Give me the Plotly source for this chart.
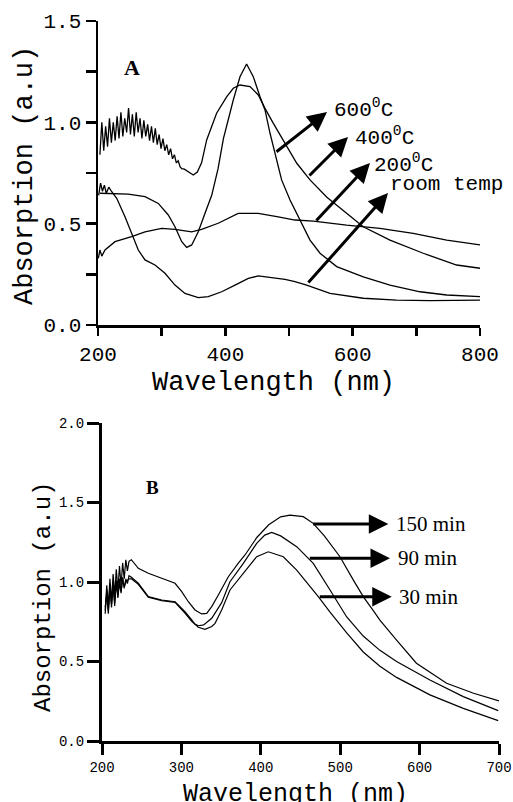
import plotly.graph_objects as go

# ---------------- Panel A data ----------------
wl_600 = [203.1, 226.7, 247.6, 273.8, 294.7, 310.4, 320.9, 331.5, 339.3, 347.2, 357.5, 368.1,
          378.6, 388.5, 397.0, 412.5, 423.0, 433.4, 443.9, 454.5, 462.3, 470.2, 478.0, 488.4,
          501.6, 517.3, 533.0, 548.7, 574.9, 616.7, 658.6, 705.8, 747.7, 800]
abs_600 = [0.650, 0.646, 0.646, 0.633, 0.600, 0.543, 0.485, 0.411, 0.383, 0.395, 0.460, 0.551,
           0.640, 0.770, 0.920, 1.110, 1.225, 1.288, 1.225, 1.126, 1.061, 0.946, 0.848, 0.716,
           0.617, 0.518, 0.419, 0.354, 0.288, 0.238, 0.197, 0.164, 0.148, 0.140]

wl_400 = [203, 206, 209, 212, 215, 218, 221, 224, 227, 230, 233, 236, 239, 242, 245, 248, 251,
          254, 257, 260, 263, 266, 269, 272, 275, 278, 281, 284, 287, 290, 293, 296, 299, 302,
          305, 308, 311, 314, 317, 320, 323, 326, 329, 332, 335,
          341.8, 349.7, 356.0, 362.7, 370.7, 386.3, 402.0, 412.5, 423.0, 438.8, 451.8, 462.3,
          475.4, 491.1, 512.2, 533.0, 559.5, 616.6, 658.6, 710.8, 763.3, 800]
abs_400 = [0.84, 1.00, 0.86, 0.98, 0.88, 1.02, 0.90, 1.00, 0.91, 1.03, 0.92, 1.05, 0.93, 1.02,
           0.95, 1.07, 0.94, 1.04, 0.93, 1.05, 0.95, 1.02, 0.92, 1.01, 0.93, 0.99, 0.91, 0.98,
           0.90, 0.97, 0.89, 0.94, 0.87, 0.92, 0.86, 0.89, 0.84, 0.87, 0.82, 0.84, 0.80, 0.81,
           0.78, 0.77, 0.77,
           0.756, 0.740, 0.755, 0.800, 0.913, 1.045, 1.126, 1.168, 1.184, 1.176, 1.135, 1.069,
           0.995, 0.913, 0.798, 0.716, 0.630, 0.485, 0.419, 0.354, 0.296, 0.280]

wl_200 = [200.5, 203, 206, 211.0, 226.7, 252.8, 273.8, 299.9, 320.9, 347.2, 362.7, 388.8, 420.2,
          451.8, 483.2, 509.4, 538.2, 590.5, 642.9, 695.1, 747.7, 800]
abs_200 = [0.329, 0.37, 0.34, 0.370, 0.411, 0.436, 0.460, 0.477, 0.472, 0.460, 0.472, 0.502, 0.551,
           0.551, 0.534, 0.518, 0.513, 0.493, 0.477, 0.452, 0.419, 0.395]

wl_rt = [201, 204, 207, 210, 213, 217, 221, 229.4, 242.4, 252.8, 263.3, 273.8, 289.5, 305.2,
         320.9, 336.6, 357.5, 373.2, 394.3, 415.2, 436.1, 451.8, 472.8, 493.7, 509.4, 527.7,
         564.4, 616.7, 669.0, 721.5, 800]
abs_rt = [0.64, 0.70, 0.66, 0.69, 0.65, 0.68, 0.66, 0.625, 0.534, 0.452, 0.370, 0.321, 0.296,
          0.255, 0.197, 0.156, 0.135, 0.140, 0.164, 0.197, 0.230, 0.242, 0.235, 0.225, 0.214,
          0.197, 0.156, 0.132, 0.123, 0.120, 0.123]

a_xticks = [200, 300, 400, 500, 600, 700, 800]
a_xtext = ["200", "", "400", "", "600", "", "800"]
a_yticks = [0, 0.25, 0.5, 0.75, 1.0, 1.25, 1.5]
a_ytext = ["0.0", "", "0.5", "", "1.0", "", "1.5"]

# ---------------- Panel B data ----------------
wl_150 = [204, 206, 208, 210, 212, 214, 216, 218, 220, 222, 224, 226, 228, 230, 232, 234, 237,
          245.7, 258.3, 275.2, 283.5, 292, 300.4, 308.7, 317.1, 325.6, 331.9, 338.2, 346.5,
          359.1, 371.7, 380.1, 395, 410, 425, 436.7, 453.5, 466, 480, 499.7, 516.6, 529, 541.7,
          550, 571, 596, 634, 668, 700]
abs_150 = [0.82, 0.98, 0.85, 1.02, 0.88, 1.05, 0.92, 1.08, 0.95, 1.10, 0.98, 1.12, 1.02, 1.14,
           1.07, 1.13, 1.14,
           1.086, 1.055, 1.023, 1.012, 0.992, 0.939, 0.876, 0.824, 0.799, 0.803, 0.845, 0.918,
           1.033, 1.118, 1.170, 1.28, 1.36, 1.41, 1.421, 1.411, 1.369, 1.29, 1.159, 1.012, 0.908,
           0.82, 0.76, 0.635, 0.489, 0.363, 0.300, 0.252]

wl_90 = [204, 206, 208, 210, 212, 214, 216, 218, 220, 222, 224, 226, 228, 230, 232, 234, 237,
         245.7, 258.3, 275.2, 292, 304.5, 313, 317.1, 321.3, 328, 338.2, 350.7, 361, 378,
         394.8, 405, 413.7, 425, 445.2, 460, 466.1, 487.2, 508.2, 529, 550, 571, 613, 655, 699]
abs_90 = [0.80, 0.95, 0.82, 0.98, 0.84, 1.00, 0.87, 1.01, 0.90, 1.02, 0.93, 1.03, 0.96, 1.02,
          0.99, 1.04, 1.03,
          0.992, 0.908, 0.887, 0.876, 0.813, 0.761, 0.735, 0.725, 0.730, 0.772, 0.870, 1.00,
          1.117, 1.243, 1.295, 1.312, 1.29, 1.222, 1.147, 1.117, 0.95, 0.78, 0.66, 0.57, 0.50,
          0.384, 0.279, 0.191]

wl_30 = [204, 206, 208, 210, 212, 214, 216, 218, 220, 222, 224, 226, 228, 230, 232, 234, 237,
         245.7, 258.3, 275.2, 292, 304.5, 313, 321.3, 329.7, 338.2, 342.4, 350.7, 361.2, 378,
         394.8, 409.4, 428.3, 445.2, 466.1, 472.4, 487.2, 508.2, 529, 550, 571, 613, 655, 699]
abs_30 = [0.84, 0.92, 0.80, 0.96, 0.86, 0.97, 0.85, 1.00, 0.91, 0.99, 0.94, 1.02, 0.97, 1.00,
          1.01, 1.02, 1.02,
          0.985, 0.905, 0.883, 0.872, 0.805, 0.752, 0.715, 0.702, 0.720, 0.740, 0.824, 0.950,
          1.055, 1.159, 1.190, 1.159, 1.075, 0.950, 0.908, 0.81, 0.68, 0.56, 0.47, 0.40, 0.29,
          0.205, 0.128]

b_xticks = [200, 300, 400, 500, 600, 700]
b_yticks = [0.0, 0.5, 1.0, 1.5, 2.0]
b_ytext = ["0.0", "0.5", "1.0", "1.5", "2.0"]

W, H = 513, 802
def px(x):
    return x / W
def py(y):
    return 1 - y / H

fig = go.Figure()
for xs, ys in [(wl_600, abs_600), (wl_400, abs_400), (wl_200, abs_200), (wl_rt, abs_rt)]:
    fig.add_trace(go.Scatter(x=xs, y=ys, mode="lines", line=dict(color="black", width=1.3),
                             xaxis="x", yaxis="y", hoverinfo="skip"))
for xs, ys in [(wl_150, abs_150), (wl_90, abs_90), (wl_30, abs_30)]:
    fig.add_trace(go.Scatter(x=xs, y=ys, mode="lines", line=dict(color="black", width=1.2),
                             xaxis="x2", yaxis="y2", hoverinfo="skip"))

mono = "Liberation Mono"
serif = "Liberation Serif"

axis_common = dict(showgrid=False, zeroline=False, showline=True, linecolor="black",
                   ticks="outside", tickcolor="black", automargin=False)

fig.update_layout(
    template="none",
    width=W, height=H, margin=dict(l=0, r=0, t=0, b=0, pad=0, autoexpand=False),
    paper_bgcolor="white", plot_bgcolor="white", showlegend=False,
    xaxis=dict(domain=[px(98), px(480)], range=[200, 800], tickvals=a_xticks, ticktext=a_xtext,
               linewidth=2.5, tickwidth=2.5, ticklen=8, anchor="y",
               tickfont=dict(family=mono, size=21, color="black"), **axis_common),
    yaxis=dict(domain=[py(325), py(21)], range=[0, 1.5], tickvals=a_yticks, ticktext=a_ytext,
               linewidth=2.5, tickwidth=2.5, ticklen=10, anchor="x",
               tickfont=dict(family=mono, size=21, color="black"), **axis_common),
    xaxis2=dict(domain=[px(102), px(499)], range=[200, 700], tickvals=b_xticks,
                linewidth=3, tickwidth=3, ticklen=11, anchor="y2",
                tickfont=dict(family=mono, size=14, color="black"), **axis_common),
    yaxis2=dict(domain=[py(741), py(423)], range=[0, 2.0], tickvals=b_yticks, ticktext=b_ytext,
                linewidth=3, tickwidth=3, ticklen=12, anchor="x2",
                tickfont=dict(family=mono, size=14, color="black"), **axis_common),
)

ann = []
# axis titles
ann.append(dict(text="Wavelength (nm)", x=px(273), y=py(383), xref="paper", yref="paper",
                xanchor="center", yanchor="middle",
                showarrow=False, font=dict(family=mono, size=27, color="black")))
ann.append(dict(text="Absorption (a.u)", x=px(25), y=py(176), xref="paper", yref="paper",
                xanchor="center", yanchor="middle",
                showarrow=False, textangle=-90, font=dict(family=mono, size=27, color="black")))
ann.append(dict(text="Wavelength (nm)", x=px(295), y=py(778), xref="paper", yref="paper",
                xanchor="center", yanchor="top",
                showarrow=False, font=dict(family=mono, size=25, color="black")))
ann.append(dict(text="Absorption (a.u)", x=px(43), y=py(597), xref="paper", yref="paper",
                xanchor="center", yanchor="middle",
                showarrow=False, textangle=-90, font=dict(family=mono, size=24, color="black")))
# panel letters
ann.append(dict(text="<b>A</b>", x=253.4, y=1.273, xref="x", yref="y", showarrow=False,
                xanchor="center", yanchor="middle",
                font=dict(family=serif, size=22, color="black")))
ann.append(dict(text="<b>B</b>", x=263.9, y=1.596, xref="x2", yref="y2", showarrow=False,
                xanchor="center", yanchor="middle",
                font=dict(family=serif, size=19, color="black")))

# panel A arrows: (tail x, tail y, head x, head y)
a_arrows = [(478.0, 0.849, 559.7, 1.051), (529.8, 0.730, 592.7, 0.928),
            (540.8, 0.508, 627.2, 0.799), (528.3, 0.202, 655.5, 0.651)]
for tx, ty, hx, hy in a_arrows:
    ann.append(dict(x=hx, y=hy, ax=tx, ay=ty, xref="x", yref="y", axref="x", ayref="y",
                    text="", showarrow=True, arrowhead=2, arrowsize=1.3, arrowwidth=3,
                    arrowcolor="black", standoff=0, startstandoff=0))
a_labels = [("600<sup>0</sup>C", 567.5, 1.069), ("400<sup>0</sup>C", 600.5, 0.928),
            ("200<sup>0</sup>C", 630.4, 0.799), ("room temp", 655.5, 0.691)]
for t, x, y in a_labels:
    ann.append(dict(text=t, x=x, y=y, xref="x", yref="y", xanchor="left", yanchor="middle",
                    showarrow=False, font=dict(family=mono, size=21, color="black")))

# panel B arrows
b_arrows = [(464.1, 1.365, 560.6), (459.8, 1.149, 562.7), (472.4, 0.908, 564.9)]
for tx, y, hx in b_arrows:
    ann.append(dict(x=hx, y=y, ax=tx, ay=y, xref="x2", yref="y2", axref="x2", ayref="y2",
                    text="", showarrow=True, arrowhead=2, arrowsize=1.3, arrowwidth=3,
                    arrowcolor="black", standoff=0, startstandoff=0))
b_labels = [("150 min", 1.365), ("90 min", 1.149), ("30 min", 0.908)]
b_label_x = [568.0, 570.0, 571.5]
for (t, y), x in zip(b_labels, b_label_x):
    ann.append(dict(text=t, x=x, y=y, xref="x2", yref="y2", xanchor="left", yanchor="middle",
                    showarrow=False, font=dict(family=serif, size=21, color="black")))

fig.update_layout(annotations=ann)
fig.write_html("out.html", config={"displayModeBar": False, "staticPlot": True},
               post_script="document.body.style.margin='0';document.body.style.overflow='hidden';")
